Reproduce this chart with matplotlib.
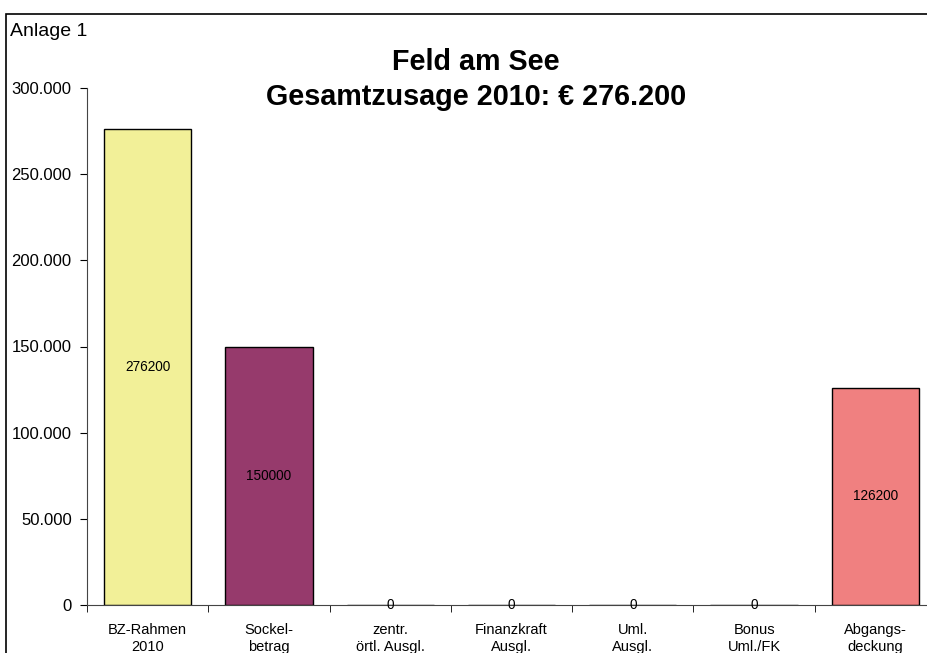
import matplotlib
matplotlib.use("Agg")
import matplotlib.pyplot as plt
from matplotlib.ticker import FuncFormatter
from matplotlib.patches import Rectangle

categories = ["BZ-Rahmen\n2010", "Sockel-\nbetrag", "zentr.\nörtl. Ausgl.", "Finanzkraft\nAusgl.",
              "Uml.\nAusgl.", "Bonus\nUml./FK", "Abgangs-\ndeckung"]
values = [276200, 150000, 0, 0, 0, 0, 126200]
colors = ["#F2F098", "#963A6C", "#963A6C", "#963A6C", "#963A6C", "#963A6C", "#F08080"]
yticks = [0, 50000, 100000, 150000, 200000, 250000, 300000]

plt.rcParams['font.family'] = ['Liberation Sans', 'DejaVu Sans']

W, H = 927, 653
fig = plt.figure(figsize=(W / 100, H / 100), dpi=100)

# outer border
fig.patches.append(Rectangle((6 / W, -0.1), 1.2, 1 - 14 / H + 0.1, transform=fig.transFigure,
                             fill=False, edgecolor="black", linewidth=1.2))

x0, x1 = 87, 936
y0, y1 = 605, 88
ax = fig.add_axes([x0 / W, 1 - y0 / H, (x1 - x0) / W, (y0 - y1) / H])
ax.set_facecolor("none")

xs = list(range(len(categories)))
bars = ax.bar(xs, values, width=0.72, color=colors, edgecolor="black", linewidth=1.0)
for x, v in zip(xs, values):
    ax.text(x, v / 2, f"{v}", ha="center", va="center", fontsize=9.8)

ax.set_xlim(-0.5, 6.5)
ax.set_ylim(0, 300000)
ax.set_yticks(yticks)
ax.yaxis.set_major_formatter(FuncFormatter(lambda v, p: f"{int(v):,}".replace(",", ".")))
ax.set_xticks(xs)
ax.set_xticklabels(categories, fontsize=10.5, linespacing=1.3)
ax.set_xticks([i - 0.5 for i in range(len(categories) + 1)], minor=True)
ax.tick_params(axis="x", which="major", length=0, pad=13)
ax.tick_params(axis="x", which="minor", length=5, direction="out")
ax.tick_params(axis="y", length=5, direction="out", labelsize=12, pad=6)
for s in ["top", "right"]:
    ax.spines[s].set_visible(False)
ax.spines["left"].set_color("#444444")
ax.spines["bottom"].set_color("#444444")

fig.text(10 / W, 1 - 36 / H, "Anlage 1", fontsize=14, ha="left", va="baseline")
fig.text(476 / W, 1 - 70 / H, "Feld am See", fontsize=20.7, fontweight="bold", ha="center", va="baseline")
fig.text(476 / W, 1 - 105 / H, "Gesamtzusage 2010: € 276.200", fontsize=20.7, fontweight="bold",
         ha="center", va="baseline")

fig.savefig("out.png", dpi=100)
